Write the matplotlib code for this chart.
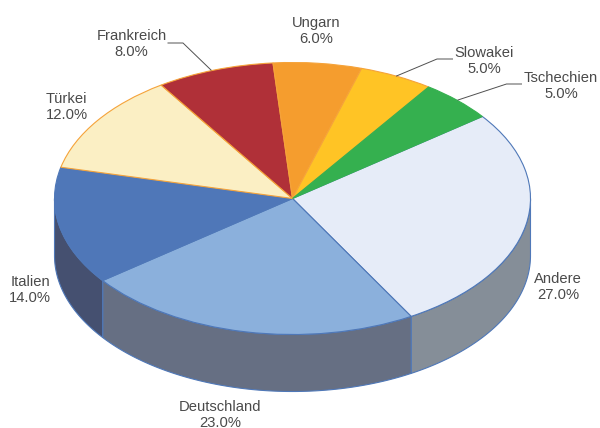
import numpy as np
import matplotlib
matplotlib.use("Agg")
import matplotlib.pyplot as plt

plt.rcParams['font.family'] = ['Liberation Sans', 'DejaVu Sans']

# --- DATA ---
categories = ["Andere", "Deutschland", "Italien", "Türkei", "Frankreich", "Ungarn", "Slowakei", "Tschechien"]
shares = [27.0, 23.0, 14.0, 12.0, 8.0, 6.0, 5.0, 5.0]

top_colors = ["#E6ECF8", "#8BB0DC", "#4F77B8", "#FBEFC4", "#B03038", "#F59D2E", "#FFC425", "#35B04F"]
edge_colors = ["#4F78B8", "#4F78B8", "#4F78B8", "#F5A33A", "#F5A33A", "#F5A33A", "#F5A33A", "#35B04F"]
side_colors = ["#858E98", "#666F83", "#455070", "#8A7F5E", "#6A1D22", "#94601C", "#9A7616", "#20692F"]

# geometry of the pie in image pixels
CX, CY, RX, RY = 292.5, 198.5, 238.0, 136.0
DEPTH = 57.0 / RY
START = 37.1

fig = plt.figure(figsize=(6.0, 4.28), dpi=100, facecolor="white")
ax = fig.add_axes([0, 0, 1, 1])


def px(x, y):
    """image pixel -> data coords (unit circle = top of pie)"""
    return (x - CX) / RX, (CY - y) / RY


# --- TOP ---
wedges, _ = ax.pie(shares, startangle=START, counterclock=False, colors=top_colors, radius=1.0,
                   wedgeprops=dict(linewidth=0.8, zorder=3))
for w, ec in zip(wedges, edge_colors):
    w.set_edgecolor(ec)

# --- SIDE (front half only) ---
for w, side, ec in zip(wedges, side_colors, edge_colors):
    a1, a2 = w.theta1, w.theta2
    # keep only the part that faces the viewer (180..360)
    for off in (0, 360, -360):
        lo, hi = max(a1 + off, 180), min(a2 + off, 360)
        if hi <= lo:
            continue
        t = np.radians(np.linspace(lo, hi, 120))
        xs = np.concatenate([np.cos(t), np.cos(t[::-1])])
        ys = np.concatenate([np.sin(t), np.sin(t[::-1]) - DEPTH])
        ax.fill(xs, ys, facecolor=side, edgecolor="#4F78B8", linewidth=0.8, zorder=2)

# --- LABELS ---
label_pos = {
    "Andere": (558, 287), "Deutschland": (220, 415), "Italien": (30, 290), "Türkei": (66.5, 107),
    "Frankreich": (131.5, 44), "Ungarn": (316, 31), "Slowakei": (484, 61), "Tschechien": (561, 86),
}
for name, val in zip(categories, shares):
    x, y = px(*label_pos[name])
    ax.text(x, y, f"{name}\n{val:.1f}%", ha="center", va="center", fontsize=10.6, color="#4A4A4A",
            linespacing=1.22, zorder=5, clip_on=False)

# leader lines
leaders = [
    [(168, 43), (183, 43), (211, 70)],
    [(452.5, 59), (437, 59), (396.5, 76)],
    [(521.5, 84), (506.5, 84), (458, 100)],
]
for pts in leaders:
    xy = np.array([px(*p) for p in pts])
    ax.plot(xy[:, 0], xy[:, 1], color="#505050", lw=0.7, zorder=4, solid_joinstyle="miter")

ax.set_aspect("auto")
ax.set_xlim(px(0, 0)[0], px(600, 0)[0])
ax.set_ylim(px(0, 428)[1], px(0, 0)[1])
ax.axis("off")

fig.savefig("out.png", dpi=100, facecolor="white")
plt.close(fig)
